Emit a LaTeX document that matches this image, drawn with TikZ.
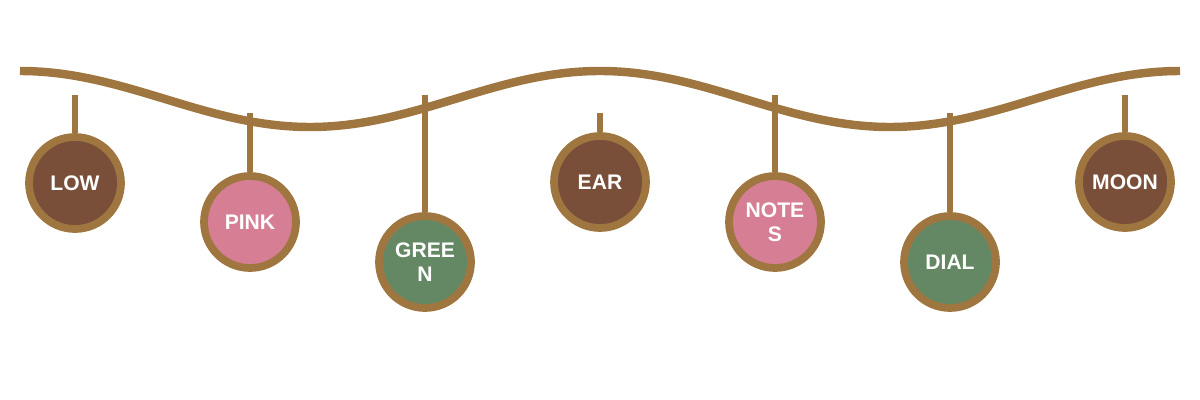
\documentclass[tikz,border=0pt]{standalone}
\usepackage{fontspec}
\setmainfont{Liberation Sans}
\begin{document}
\begin{tikzpicture}[x=0.025cm,y=-0.025cm,
  rope/.style={draw=ropec,line width=6pt},
  str/.style={draw=ropec,line width=3.6pt},
  orn/.style={circle,draw=ropec,line width=5.5pt,minimum size=92*0.025cm,inner sep=0pt,align=center,text=white,font=\bfseries\fontsize{15}{17}\selectfont}]
\definecolor{ropec}{HTML}{A07640}
\definecolor{cbrown}{HTML}{7A4F3A}
\definecolor{cpink}{HTML}{D67E93}
\definecolor{cgreen}{HTML}{658864}
\useasboundingbox (0,0) rectangle (1200,400);
\draw[rope] plot[domain=20:1180,samples=150,smooth] (\x,{99-28*cos((\x-20)/580*360)});
\foreach \n/\x/\y/\t/\c/\lab in {a/75/183/95/cbrown/LOW, b/250/222/113/cpink/PINK, c/425/262/95/cgreen/{GREE\\N}, d/600/182/113/cbrown/EAR, e/775/222/95/cpink/{NOTE\\S}, f/950/262/113/cgreen/DIAL, g/1125/182/95/cbrown/MOON}{
  \coordinate (t\n) at (\x,\t);
  \node[orn,fill=\c] (\n) at (\x,\y) {\lab};
  \draw[str] (t\n) -- (\n.north);
}
\end{tikzpicture}
\end{document}
